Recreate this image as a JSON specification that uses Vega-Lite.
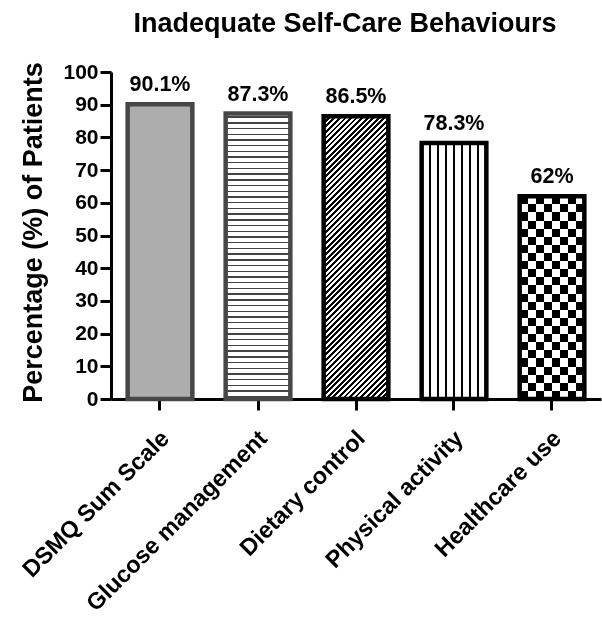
{
"$schema": "https://vega.github.io/schema/vega-lite/v6.json",
"width": 490, "height": 327,
"autosize": {"type": "none"},
"padding": {"left": 111, "top": 72, "right": 1, "bottom": 218},
"background": "white",
"title": {"text": "Inadequate Self-Care Behaviours", "font": "Liberation Sans", "fontSize": 27, "fontWeight": "bold", "color": "black", "anchor": "middle", "frame": "group", "dx": -11, "offset": 2, "baseline": "alphabetic"},
"config": {"view": {"stroke": null}, "font": "Liberation Sans"},
"data": {"values": [
 {"cat": "DSMQ Sum Scale", "pct": 90.1, "label": "90.1%"},
 {"cat": "Glucose management", "pct": 87.3, "label": "87.3%"},
 {"cat": "Dietary control", "pct": 86.5, "label": "86.5%"},
 {"cat": "Physical activity", "pct": 78.3, "label": "78.3%"},
 {"cat": "Healthcare use", "pct": 62, "label": "62%"}
]},
"encoding": {
 "x": {"field": "cat", "type": "nominal", "sort": null,
   "scale": {"domain": ["DSMQ Sum Scale", "Glucose management", "Dietary control", "Physical activity", "Healthcare use"], "paddingInner": 0.34, "paddingOuter": 0.17},
   "axis": {"title": null, "labelAngle": -45, "labelFont": "Liberation Sans", "labelFontSize": 23.5, "labelFontWeight": "bold", "labelColor": "black", "labelLimit": 0, "labelOverlap": false, "labelPadding": 16, "labelOffset": -3, "tickSize": 11, "tickWidth": 3, "tickColor": "black", "domainColor": "black", "domainWidth": 3}},
 "y": {"field": "pct", "type": "quantitative",
   "scale": {"domain": [0, 100], "nice": false},
   "axis": {"values": [0, 10, 20, 30, 40, 50, 60, 70, 80, 90, 100], "grid": false, "title": "Percentage (%) of Patients", "titleFont": "Liberation Sans", "titleFontSize": 27, "titleFontWeight": "bold", "titleColor": "black", "titlePadding": 15, "titleY": 160, "labelFont": "Liberation Sans", "labelFontSize": 21, "labelFontWeight": "bold", "labelColor": "black", "labelPadding": 2, "labelOverlap": false, "tickSize": 11, "tickWidth": 3, "tickColor": "black", "domainColor": "black", "domainWidth": 3}}
},
"layer": [
 {"mark": {"type": "bar", "strokeWidth": 4.5},
  "encoding": {
   "stroke": {"condition": {"test": "datum.cat === 'DSMQ Sum Scale' || datum.cat === 'Glucose management'", "value": "#474747"}, "value": "black"},
   "fill": {"condition": [
     {"test": "datum.cat === 'Glucose management'", "value": {"gradient": "linear", "x1": 0, "y1": 0, "x2": 0, "y2": 1, "stops": [
{"offset":0.01,"color":"#fff"},{"offset":0.01,"color":"#444"},{"offset":0.015,"color":"#444"},{"offset":0.015,"color":"#fff"},
{"offset":0.03,"color":"#fff"},{"offset":0.03,"color":"#444"},{"offset":0.035,"color":"#444"},{"offset":0.035,"color":"#fff"},
{"offset":0.05,"color":"#fff"},{"offset":0.05,"color":"#444"},{"offset":0.055,"color":"#444"},{"offset":0.055,"color":"#fff"},
{"offset":0.07,"color":"#fff"},{"offset":0.07,"color":"#444"},{"offset":0.075,"color":"#444"},{"offset":0.075,"color":"#fff"},
{"offset":0.09,"color":"#fff"},{"offset":0.09,"color":"#444"},{"offset":0.095,"color":"#444"},{"offset":0.095,"color":"#fff"},
{"offset":0.11,"color":"#fff"},{"offset":0.11,"color":"#444"},{"offset":0.115,"color":"#444"},{"offset":0.115,"color":"#fff"},
{"offset":0.13,"color":"#fff"},{"offset":0.13,"color":"#444"},{"offset":0.135,"color":"#444"},{"offset":0.135,"color":"#fff"},
{"offset":0.15,"color":"#fff"},{"offset":0.15,"color":"#444"},{"offset":0.155,"color":"#444"},{"offset":0.155,"color":"#fff"},
{"offset":0.17,"color":"#fff"},{"offset":0.17,"color":"#444"},{"offset":0.175,"color":"#444"},{"offset":0.175,"color":"#fff"},
{"offset":0.19,"color":"#fff"},{"offset":0.19,"color":"#444"},{"offset":0.195,"color":"#444"},{"offset":0.195,"color":"#fff"},
{"offset":0.21,"color":"#fff"},{"offset":0.21,"color":"#444"},{"offset":0.215,"color":"#444"},{"offset":0.215,"color":"#fff"},
{"offset":0.23,"color":"#fff"},{"offset":0.23,"color":"#444"},{"offset":0.235,"color":"#444"},{"offset":0.235,"color":"#fff"},
{"offset":0.25,"color":"#fff"},{"offset":0.25,"color":"#444"},{"offset":0.255,"color":"#444"},{"offset":0.255,"color":"#fff"},
{"offset":0.27,"color":"#fff"},{"offset":0.27,"color":"#444"},{"offset":0.275,"color":"#444"},{"offset":0.275,"color":"#fff"},
{"offset":0.29,"color":"#fff"},{"offset":0.29,"color":"#444"},{"offset":0.295,"color":"#444"},{"offset":0.295,"color":"#fff"},
{"offset":0.31,"color":"#fff"},{"offset":0.31,"color":"#444"},{"offset":0.315,"color":"#444"},{"offset":0.315,"color":"#fff"},
{"offset":0.33,"color":"#fff"},{"offset":0.33,"color":"#444"},{"offset":0.335,"color":"#444"},{"offset":0.335,"color":"#fff"},
{"offset":0.35,"color":"#fff"},{"offset":0.35,"color":"#444"},{"offset":0.355,"color":"#444"},{"offset":0.355,"color":"#fff"},
{"offset":0.37,"color":"#fff"},{"offset":0.37,"color":"#444"},{"offset":0.375,"color":"#444"},{"offset":0.375,"color":"#fff"},
{"offset":0.39,"color":"#fff"},{"offset":0.39,"color":"#444"},{"offset":0.395,"color":"#444"},{"offset":0.395,"color":"#fff"},
{"offset":0.41,"color":"#fff"},{"offset":0.41,"color":"#444"},{"offset":0.415,"color":"#444"},{"offset":0.415,"color":"#fff"},
{"offset":0.43,"color":"#fff"},{"offset":0.43,"color":"#444"},{"offset":0.435,"color":"#444"},{"offset":0.435,"color":"#fff"},
{"offset":0.45,"color":"#fff"},{"offset":0.45,"color":"#444"},{"offset":0.455,"color":"#444"},{"offset":0.455,"color":"#fff"},
{"offset":0.47,"color":"#fff"},{"offset":0.47,"color":"#444"},{"offset":0.475,"color":"#444"},{"offset":0.475,"color":"#fff"},
{"offset":0.49,"color":"#fff"},{"offset":0.49,"color":"#444"},{"offset":0.495,"color":"#444"},{"offset":0.495,"color":"#fff"},
{"offset":0.51,"color":"#fff"},{"offset":0.51,"color":"#444"},{"offset":0.515,"color":"#444"},{"offset":0.515,"color":"#fff"},
{"offset":0.53,"color":"#fff"},{"offset":0.53,"color":"#444"},{"offset":0.535,"color":"#444"},{"offset":0.535,"color":"#fff"},
{"offset":0.55,"color":"#fff"},{"offset":0.55,"color":"#444"},{"offset":0.555,"color":"#444"},{"offset":0.555,"color":"#fff"},
{"offset":0.57,"color":"#fff"},{"offset":0.57,"color":"#444"},{"offset":0.575,"color":"#444"},{"offset":0.575,"color":"#fff"},
{"offset":0.59,"color":"#fff"},{"offset":0.59,"color":"#444"},{"offset":0.595,"color":"#444"},{"offset":0.595,"color":"#fff"},
{"offset":0.61,"color":"#fff"},{"offset":0.61,"color":"#444"},{"offset":0.615,"color":"#444"},{"offset":0.615,"color":"#fff"},
{"offset":0.63,"color":"#fff"},{"offset":0.63,"color":"#444"},{"offset":0.635,"color":"#444"},{"offset":0.635,"color":"#fff"},
{"offset":0.65,"color":"#fff"},{"offset":0.65,"color":"#444"},{"offset":0.655,"color":"#444"},{"offset":0.655,"color":"#fff"},
{"offset":0.67,"color":"#fff"},{"offset":0.67,"color":"#444"},{"offset":0.675,"color":"#444"},{"offset":0.675,"color":"#fff"},
{"offset":0.69,"color":"#fff"},{"offset":0.69,"color":"#444"},{"offset":0.695,"color":"#444"},{"offset":0.695,"color":"#fff"},
{"offset":0.71,"color":"#fff"},{"offset":0.71,"color":"#444"},{"offset":0.715,"color":"#444"},{"offset":0.715,"color":"#fff"},
{"offset":0.73,"color":"#fff"},{"offset":0.73,"color":"#444"},{"offset":0.735,"color":"#444"},{"offset":0.735,"color":"#fff"},
{"offset":0.75,"color":"#fff"},{"offset":0.75,"color":"#444"},{"offset":0.755,"color":"#444"},{"offset":0.755,"color":"#fff"},
{"offset":0.77,"color":"#fff"},{"offset":0.77,"color":"#444"},{"offset":0.775,"color":"#444"},{"offset":0.775,"color":"#fff"},
{"offset":0.79,"color":"#fff"},{"offset":0.79,"color":"#444"},{"offset":0.795,"color":"#444"},{"offset":0.795,"color":"#fff"},
{"offset":0.81,"color":"#fff"},{"offset":0.81,"color":"#444"},{"offset":0.815,"color":"#444"},{"offset":0.815,"color":"#fff"},
{"offset":0.83,"color":"#fff"},{"offset":0.83,"color":"#444"},{"offset":0.835,"color":"#444"},{"offset":0.835,"color":"#fff"},
{"offset":0.85,"color":"#fff"},{"offset":0.85,"color":"#444"},{"offset":0.855,"color":"#444"},{"offset":0.855,"color":"#fff"},
{"offset":0.87,"color":"#fff"},{"offset":0.87,"color":"#444"},{"offset":0.875,"color":"#444"},{"offset":0.875,"color":"#fff"},
{"offset":0.89,"color":"#fff"},{"offset":0.89,"color":"#444"},{"offset":0.895,"color":"#444"},{"offset":0.895,"color":"#fff"},
{"offset":0.91,"color":"#fff"},{"offset":0.91,"color":"#444"},{"offset":0.915,"color":"#444"},{"offset":0.915,"color":"#fff"},
{"offset":0.93,"color":"#fff"},{"offset":0.93,"color":"#444"},{"offset":0.935,"color":"#444"},{"offset":0.935,"color":"#fff"},
{"offset":0.95,"color":"#fff"},{"offset":0.95,"color":"#444"},{"offset":0.955,"color":"#444"},{"offset":0.955,"color":"#fff"},
{"offset":0.97,"color":"#fff"},{"offset":0.97,"color":"#444"},{"offset":0.975,"color":"#444"},{"offset":0.975,"color":"#fff"},
{"offset":0.99,"color":"#fff"},{"offset":0.99,"color":"#444"},{"offset":0.995,"color":"#444"},{"offset":0.995,"color":"#fff"}
     ]}},
     {"test": "datum.cat === 'Dietary control'", "value": {"gradient": "linear", "x1": 0, "y1": 0, "x2": 0.267, "y2": 1.1676, "stops": [
{"offset":0,"color":"#000"},{"offset":0.008,"color":"#000"},{"offset":0.008,"color":"#fff"},{"offset":0.016,"color":"#fff"},
{"offset":0.016,"color":"#000"},{"offset":0.024,"color":"#000"},{"offset":0.024,"color":"#fff"},{"offset":0.032,"color":"#fff"},
{"offset":0.032,"color":"#000"},{"offset":0.04,"color":"#000"},{"offset":0.04,"color":"#fff"},{"offset":0.048,"color":"#fff"},
{"offset":0.048,"color":"#000"},{"offset":0.056,"color":"#000"},{"offset":0.056,"color":"#fff"},{"offset":0.064,"color":"#fff"},
{"offset":0.064,"color":"#000"},{"offset":0.072,"color":"#000"},{"offset":0.072,"color":"#fff"},{"offset":0.08,"color":"#fff"},
{"offset":0.08,"color":"#000"},{"offset":0.088,"color":"#000"},{"offset":0.088,"color":"#fff"},{"offset":0.096,"color":"#fff"},
{"offset":0.096,"color":"#000"},{"offset":0.104,"color":"#000"},{"offset":0.104,"color":"#fff"},{"offset":0.112,"color":"#fff"},
{"offset":0.112,"color":"#000"},{"offset":0.12,"color":"#000"},{"offset":0.12,"color":"#fff"},{"offset":0.128,"color":"#fff"},
{"offset":0.128,"color":"#000"},{"offset":0.136,"color":"#000"},{"offset":0.136,"color":"#fff"},{"offset":0.144,"color":"#fff"},
{"offset":0.144,"color":"#000"},{"offset":0.152,"color":"#000"},{"offset":0.152,"color":"#fff"},{"offset":0.16,"color":"#fff"},
{"offset":0.16,"color":"#000"},{"offset":0.168,"color":"#000"},{"offset":0.168,"color":"#fff"},{"offset":0.176,"color":"#fff"},
{"offset":0.176,"color":"#000"},{"offset":0.184,"color":"#000"},{"offset":0.184,"color":"#fff"},{"offset":0.192,"color":"#fff"},
{"offset":0.192,"color":"#000"},{"offset":0.2,"color":"#000"},{"offset":0.2,"color":"#fff"},{"offset":0.208,"color":"#fff"},
{"offset":0.208,"color":"#000"},{"offset":0.216,"color":"#000"},{"offset":0.216,"color":"#fff"},{"offset":0.224,"color":"#fff"},
{"offset":0.224,"color":"#000"},{"offset":0.232,"color":"#000"},{"offset":0.232,"color":"#fff"},{"offset":0.24,"color":"#fff"},
{"offset":0.24,"color":"#000"},{"offset":0.248,"color":"#000"},{"offset":0.248,"color":"#fff"},{"offset":0.256,"color":"#fff"},
{"offset":0.256,"color":"#000"},{"offset":0.264,"color":"#000"},{"offset":0.264,"color":"#fff"},{"offset":0.272,"color":"#fff"},
{"offset":0.272,"color":"#000"},{"offset":0.28,"color":"#000"},{"offset":0.28,"color":"#fff"},{"offset":0.288,"color":"#fff"},
{"offset":0.288,"color":"#000"},{"offset":0.296,"color":"#000"},{"offset":0.296,"color":"#fff"},{"offset":0.304,"color":"#fff"},
{"offset":0.304,"color":"#000"},{"offset":0.312,"color":"#000"},{"offset":0.312,"color":"#fff"},{"offset":0.32,"color":"#fff"},
{"offset":0.32,"color":"#000"},{"offset":0.328,"color":"#000"},{"offset":0.328,"color":"#fff"},{"offset":0.336,"color":"#fff"},
{"offset":0.336,"color":"#000"},{"offset":0.344,"color":"#000"},{"offset":0.344,"color":"#fff"},{"offset":0.352,"color":"#fff"},
{"offset":0.352,"color":"#000"},{"offset":0.36,"color":"#000"},{"offset":0.36,"color":"#fff"},{"offset":0.368,"color":"#fff"},
{"offset":0.368,"color":"#000"},{"offset":0.376,"color":"#000"},{"offset":0.376,"color":"#fff"},{"offset":0.384,"color":"#fff"},
{"offset":0.384,"color":"#000"},{"offset":0.392,"color":"#000"},{"offset":0.392,"color":"#fff"},{"offset":0.4,"color":"#fff"},
{"offset":0.4,"color":"#000"},{"offset":0.408,"color":"#000"},{"offset":0.408,"color":"#fff"},{"offset":0.416,"color":"#fff"},
{"offset":0.416,"color":"#000"},{"offset":0.424,"color":"#000"},{"offset":0.424,"color":"#fff"},{"offset":0.432,"color":"#fff"},
{"offset":0.432,"color":"#000"},{"offset":0.44,"color":"#000"},{"offset":0.44,"color":"#fff"},{"offset":0.448,"color":"#fff"},
{"offset":0.448,"color":"#000"},{"offset":0.456,"color":"#000"},{"offset":0.456,"color":"#fff"},{"offset":0.464,"color":"#fff"},
{"offset":0.464,"color":"#000"},{"offset":0.472,"color":"#000"},{"offset":0.472,"color":"#fff"},{"offset":0.48,"color":"#fff"},
{"offset":0.48,"color":"#000"},{"offset":0.488,"color":"#000"},{"offset":0.488,"color":"#fff"},{"offset":0.496,"color":"#fff"},
{"offset":0.496,"color":"#000"},{"offset":0.504,"color":"#000"},{"offset":0.504,"color":"#fff"},{"offset":0.512,"color":"#fff"},
{"offset":0.512,"color":"#000"},{"offset":0.52,"color":"#000"},{"offset":0.52,"color":"#fff"},{"offset":0.528,"color":"#fff"},
{"offset":0.528,"color":"#000"},{"offset":0.536,"color":"#000"},{"offset":0.536,"color":"#fff"},{"offset":0.544,"color":"#fff"},
{"offset":0.544,"color":"#000"},{"offset":0.552,"color":"#000"},{"offset":0.552,"color":"#fff"},{"offset":0.56,"color":"#fff"},
{"offset":0.56,"color":"#000"},{"offset":0.568,"color":"#000"},{"offset":0.568,"color":"#fff"},{"offset":0.576,"color":"#fff"},
{"offset":0.576,"color":"#000"},{"offset":0.584,"color":"#000"},{"offset":0.584,"color":"#fff"},{"offset":0.592,"color":"#fff"},
{"offset":0.592,"color":"#000"},{"offset":0.6,"color":"#000"},{"offset":0.6,"color":"#fff"},{"offset":0.608,"color":"#fff"},
{"offset":0.608,"color":"#000"},{"offset":0.616,"color":"#000"},{"offset":0.616,"color":"#fff"},{"offset":0.624,"color":"#fff"},
{"offset":0.624,"color":"#000"},{"offset":0.632,"color":"#000"},{"offset":0.632,"color":"#fff"},{"offset":0.64,"color":"#fff"},
{"offset":0.64,"color":"#000"},{"offset":0.648,"color":"#000"},{"offset":0.648,"color":"#fff"},{"offset":0.656,"color":"#fff"},
{"offset":0.656,"color":"#000"},{"offset":0.664,"color":"#000"},{"offset":0.664,"color":"#fff"},{"offset":0.672,"color":"#fff"},
{"offset":0.672,"color":"#000"},{"offset":0.68,"color":"#000"},{"offset":0.68,"color":"#fff"},{"offset":0.688,"color":"#fff"},
{"offset":0.688,"color":"#000"},{"offset":0.696,"color":"#000"},{"offset":0.696,"color":"#fff"},{"offset":0.704,"color":"#fff"},
{"offset":0.704,"color":"#000"},{"offset":0.712,"color":"#000"},{"offset":0.712,"color":"#fff"},{"offset":0.72,"color":"#fff"},
{"offset":0.72,"color":"#000"},{"offset":0.728,"color":"#000"},{"offset":0.728,"color":"#fff"},{"offset":0.736,"color":"#fff"},
{"offset":0.736,"color":"#000"},{"offset":0.744,"color":"#000"},{"offset":0.744,"color":"#fff"},{"offset":0.752,"color":"#fff"},
{"offset":0.752,"color":"#000"},{"offset":0.76,"color":"#000"},{"offset":0.76,"color":"#fff"},{"offset":0.768,"color":"#fff"},
{"offset":0.768,"color":"#000"},{"offset":0.776,"color":"#000"},{"offset":0.776,"color":"#fff"},{"offset":0.784,"color":"#fff"},
{"offset":0.784,"color":"#000"},{"offset":0.792,"color":"#000"},{"offset":0.792,"color":"#fff"},{"offset":0.8,"color":"#fff"},
{"offset":0.8,"color":"#000"},{"offset":0.808,"color":"#000"},{"offset":0.808,"color":"#fff"},{"offset":0.816,"color":"#fff"},
{"offset":0.816,"color":"#000"},{"offset":0.824,"color":"#000"},{"offset":0.824,"color":"#fff"},{"offset":0.832,"color":"#fff"},
{"offset":0.832,"color":"#000"},{"offset":0.84,"color":"#000"},{"offset":0.84,"color":"#fff"},{"offset":0.848,"color":"#fff"},
{"offset":0.848,"color":"#000"},{"offset":0.856,"color":"#000"},{"offset":0.856,"color":"#fff"},{"offset":0.864,"color":"#fff"},
{"offset":0.864,"color":"#000"},{"offset":0.872,"color":"#000"},{"offset":0.872,"color":"#fff"},{"offset":0.88,"color":"#fff"},
{"offset":0.88,"color":"#000"},{"offset":0.888,"color":"#000"},{"offset":0.888,"color":"#fff"},{"offset":0.896,"color":"#fff"},
{"offset":0.896,"color":"#000"},{"offset":0.904,"color":"#000"},{"offset":0.904,"color":"#fff"},{"offset":0.912,"color":"#fff"},
{"offset":0.912,"color":"#000"},{"offset":0.92,"color":"#000"},{"offset":0.92,"color":"#fff"},{"offset":0.928,"color":"#fff"},
{"offset":0.928,"color":"#000"},{"offset":0.936,"color":"#000"},{"offset":0.936,"color":"#fff"},{"offset":0.944,"color":"#fff"},
{"offset":0.944,"color":"#000"},{"offset":0.952,"color":"#000"},{"offset":0.952,"color":"#fff"},{"offset":0.96,"color":"#fff"},
{"offset":0.96,"color":"#000"},{"offset":0.968,"color":"#000"},{"offset":0.968,"color":"#fff"},{"offset":0.976,"color":"#fff"},
{"offset":0.976,"color":"#000"},{"offset":0.984,"color":"#000"},{"offset":0.984,"color":"#fff"},{"offset":0.992,"color":"#fff"},
{"offset":0.992,"color":"#000"},{"offset":1,"color":"#000"}
     ]}},
     {"test": "datum.cat === 'Physical activity'", "value": {"gradient": "linear", "x1": 0, "y1": 0, "x2": 1, "y2": 0, "stops": [
{"offset":0.11,"color":"#fff"},{"offset":0.11,"color":"#000"},{"offset":0.14,"color":"#000"},{"offset":0.14,"color":"#fff"},
{"offset":0.235,"color":"#fff"},{"offset":0.235,"color":"#000"},{"offset":0.265,"color":"#000"},{"offset":0.265,"color":"#fff"},
{"offset":0.36,"color":"#fff"},{"offset":0.36,"color":"#000"},{"offset":0.39,"color":"#000"},{"offset":0.39,"color":"#fff"},
{"offset":0.485,"color":"#fff"},{"offset":0.485,"color":"#000"},{"offset":0.515,"color":"#000"},{"offset":0.515,"color":"#fff"},
{"offset":0.61,"color":"#fff"},{"offset":0.61,"color":"#000"},{"offset":0.64,"color":"#000"},{"offset":0.64,"color":"#fff"},
{"offset":0.735,"color":"#fff"},{"offset":0.735,"color":"#000"},{"offset":0.765,"color":"#000"},{"offset":0.765,"color":"#fff"},
{"offset":0.86,"color":"#fff"},{"offset":0.86,"color":"#000"},{"offset":0.89,"color":"#000"},{"offset":0.89,"color":"#fff"}
     ]}},
     {"test": "datum.cat === 'Healthcare use'", "value": {"gradient": "linear", "x1": 0, "y1": 0, "x2": 1, "y2": 0, "stops": [
{"offset":0,"color":"#000"},{"offset":0.125,"color":"#000"},{"offset":0.125,"color":"#fff"},{"offset":0.25,"color":"#fff"},
{"offset":0.25,"color":"#000"},{"offset":0.375,"color":"#000"},{"offset":0.375,"color":"#fff"},{"offset":0.5,"color":"#fff"},
{"offset":0.5,"color":"#000"},{"offset":0.625,"color":"#000"},{"offset":0.625,"color":"#fff"},{"offset":0.75,"color":"#fff"},
{"offset":0.75,"color":"#000"},{"offset":0.875,"color":"#000"},{"offset":0.875,"color":"#fff"},{"offset":1,"color":"#fff"}
     ]}}
   ], "value": "#adadad"}
  }},
 {"transform": [{"filter": "datum.cat === 'Healthcare use'"}],
  "mark": {"type": "bar", "strokeWidth": 4.5, "stroke": "black", "blend": "difference",
   "fill": {"gradient": "linear", "x1": 0, "y1": 0, "x2": 0, "y2": 1, "stops": [
{"offset":0,"color":"#000"},{"offset":0.04,"color":"#000"},{"offset":0.04,"color":"#fff"},{"offset":0.08,"color":"#fff"},
{"offset":0.08,"color":"#000"},{"offset":0.12,"color":"#000"},{"offset":0.12,"color":"#fff"},{"offset":0.16,"color":"#fff"},
{"offset":0.16,"color":"#000"},{"offset":0.2,"color":"#000"},{"offset":0.2,"color":"#fff"},{"offset":0.24,"color":"#fff"},
{"offset":0.24,"color":"#000"},{"offset":0.28,"color":"#000"},{"offset":0.28,"color":"#fff"},{"offset":0.32,"color":"#fff"},
{"offset":0.32,"color":"#000"},{"offset":0.36,"color":"#000"},{"offset":0.36,"color":"#fff"},{"offset":0.4,"color":"#fff"},
{"offset":0.4,"color":"#000"},{"offset":0.44,"color":"#000"},{"offset":0.44,"color":"#fff"},{"offset":0.48,"color":"#fff"},
{"offset":0.48,"color":"#000"},{"offset":0.52,"color":"#000"},{"offset":0.52,"color":"#fff"},{"offset":0.56,"color":"#fff"},
{"offset":0.56,"color":"#000"},{"offset":0.6,"color":"#000"},{"offset":0.6,"color":"#fff"},{"offset":0.64,"color":"#fff"},
{"offset":0.64,"color":"#000"},{"offset":0.68,"color":"#000"},{"offset":0.68,"color":"#fff"},{"offset":0.72,"color":"#fff"},
{"offset":0.72,"color":"#000"},{"offset":0.76,"color":"#000"},{"offset":0.76,"color":"#fff"},{"offset":0.8,"color":"#fff"},
{"offset":0.8,"color":"#000"},{"offset":0.84,"color":"#000"},{"offset":0.84,"color":"#fff"},{"offset":0.88,"color":"#fff"},
{"offset":0.88,"color":"#000"},{"offset":0.92,"color":"#000"},{"offset":0.92,"color":"#fff"},{"offset":0.96,"color":"#fff"},
{"offset":0.96,"color":"#000"},{"offset":1,"color":"#000"}
   ]}}},
 {"mark": {"type": "text", "dy": -13, "baseline": "alphabetic", "align": "center", "font": "Liberation Sans", "fontSize": 21.5, "fontWeight": "bold", "color": "black"},
  "encoding": {"text": {"field": "label"}}}
]
}
